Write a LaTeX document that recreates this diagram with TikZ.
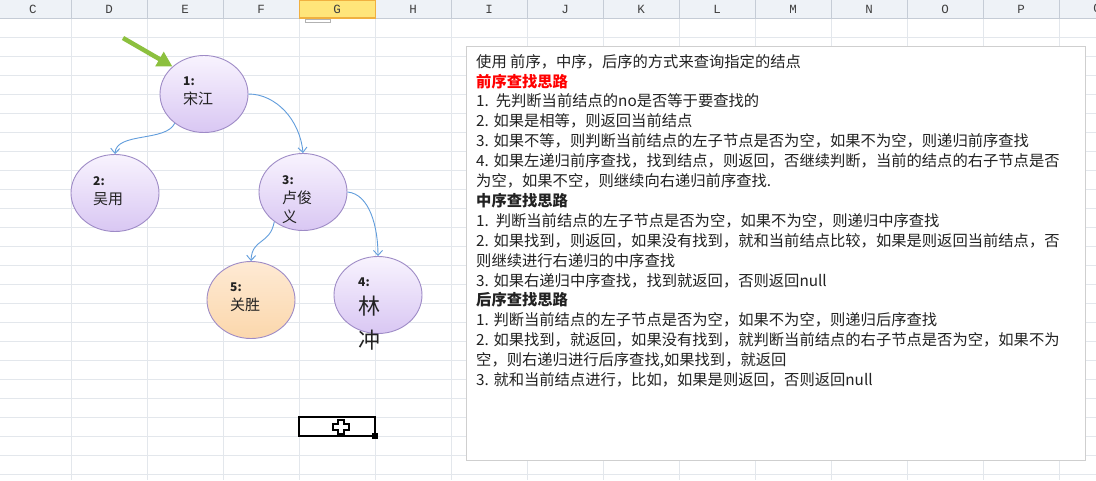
\documentclass[tikz,border=0pt]{standalone}
\usepackage{fontspec}
\setmainfont{Noto Sans CJK SC}
\setmonofont{Liberation Mono}
\usepackage{tikz}
\usetikzlibrary{arrows.meta,shapes.geometric}

\definecolor{gridgray}{HTML}{E3E7EC}
\definecolor{headfill}{HTML}{EEF2F7}
\definecolor{headline}{HTML}{C5CCD6}
\definecolor{selyellow}{HTML}{FFE57A}
\definecolor{selorange}{HTML}{F0B040}
\definecolor{linkblue}{HTML}{619DDC}
\definecolor{ballline}{HTML}{9E8BC6}
\definecolor{balltop}{HTML}{F8F3FE}
\definecolor{ballbot}{HTML}{D9C7F3}
\definecolor{peachtop}{HTML}{FEEAD4}
\definecolor{peachbot}{HTML}{FBD7AC}
\definecolor{pointgreen}{HTML}{8CC03E}
\definecolor{boxline}{HTML}{CFCFCF}
\definecolor{ink}{HTML}{222222}

\begin{document}
\begin{tikzpicture}[x=1pt,y=-1pt,
    colhead/.style={font=\ttfamily\fontsize{12.5}{12.5}\selectfont, text=black!75, inner sep=0pt},
    ball/.style={ellipse, minimum width=88pt, minimum height=77pt, inner sep=0pt,
      draw=ballline, line width=0.9pt, top color=balltop, bottom color=ballbot},
    peach/.style={ball, top color=peachtop, bottom color=peachbot},
    lbl/.style={anchor=north west, align=left, inner sep=0pt, text=ink,
      font=\fontsize{15}{19}\selectfont},
    link/.style={linkblue, line width=0.9pt, -{Straight Barb[length=5pt,width=9pt]}}]
    \useasboundingbox (0,0) rectangle (1096,480);
    \fill[white] (0,0) rectangle (1096,480);
    % sheet grid
    \foreach \y in {37,56,...,474}{\draw[gridgray] (0,\y)--(1096,\y);}
    \foreach \x in {71,147,...,1059}{\draw[gridgray] (\x,18)--(\x,480);}
    \fill[headfill] (0,0) rectangle (1096,18);
    \foreach \x in {71,147,...,1059}{\draw[headline] (\x,0)--(\x,18);}
    \draw[headline] (0,18)--(1096,18);
    \fill[selyellow] (299,0) rectangle (375,18);
    \draw[selorange] (299,0) rectangle (375,18);
    \draw[selorange, line width=1.5pt] (299,17.5)--(375,17.5);
    \draw[black!30, fill=white] (305,19) rectangle (330,22);
    \foreach \c [count=\i from 0] in {C,D,E,F,G,H,I,J,K,L,M,N,O,P,Q}{
      \node[colhead] (col\c) at (33+76*\i,9) {\c};}

    % tree
    \node[ball] (n1) at (204,94) {};
    \node[ball] (n2) at (115,193) {};
    \node[ball] (n3) at (303,192) {};
    \node[peach] (n5) at (251,300) {};
    \node[ball] (n4) at (378,295) {};
    \node[lbl] (t1) at (183,77) {{\bfseries\fontsize{12}{19}\selectfont 1:}\\宋江};
    \node[lbl] (t2) at (93,176) {{\bfseries\fontsize{12}{19}\selectfont 2:}\\吴用};
    \node[lbl] (t3) at (282,175) {{\bfseries\fontsize{12}{19}\selectfont 3:}\\卢俊\\义};
    \node[lbl] (t5) at (230,283) {{\bfseries\fontsize{12}{19}\selectfont 5:}\\关胜};
    \node[lbl] (t4) at (358,278) {{\bfseries\fontsize{12}{19}\selectfont 4:}\\[9pt]
      {\fontsize{22}{33}\selectfont 林}\\[12pt]{\fontsize{22}{33}\selectfont 冲}};
    \draw[link] (n1.225) .. controls (166,142) and (116,132) .. (n2.north);
    \draw[link] (n1.east) .. controls (276,94) and (300,120) .. (n3.north);
    \draw[link] (n3.226) .. controls (270,245) and (252,238) .. (n5.north);
    \draw[link] (n3.east) .. controls (370,194) and (378,228) .. (n4.north);
    \coordinate (hint) at (123,38);
    \draw[pointgreen, line width=4.5pt, -{Triangle[length=15pt,width=16pt]}] (hint)--(n1.139);

    % selected cell
    \draw[line width=2.5pt] (299,417) rectangle (375,436);
    \fill (372,433) rectangle (378,439);
    \draw[fill=white, line width=1.2pt] (338,420)--(344,420)--(344,424)--(349,424)--(349,430)--(344,430)
      --(344,434)--(338,434)--(338,430)--(333,430)--(333,424)--(338,424)--cycle;

    % notes
    \node[draw=boxline, fill=white, minimum width=619pt, minimum height=414pt, inner sep=0pt,
      anchor=north west] (box) at (466,46) {};
    \node[anchor=north west, align=left, inner sep=0pt, text=ink,
      font=\fontsize{15.3}{19.9}\selectfont] (notes) at (476,54) {%
      使用 前序，中序，后序的方式来查询指定的结点\\
      {\color{red}\bfseries 前序查找思路}\\
      1.\ \ 先判断当前结点的no是否等于要查找的\\
      2. 如果是相等，则返回当前结点\\
      3. 如果不等，则判断当前结点的左子节点是否为空，如果不为空，则递归前序查找\\
      4. 如果左递归前序查找，找到结点，则返回，否继续判断，当前的结点的右子节点是否\\
      为空，如果不空，则继续向右递归前序查找.\\
      {\bfseries 中序查找思路}\\
      1.\ \ 判断当前结点的左子节点是否为空，如果不为空，则递归中序查找\\
      2. 如果找到，则返回，如果没有找到，就和当前结点比较，如果是则返回当前结点，否\\
      则继续进行右递归的中序查找\\
      3. 如果右递归中序查找，找到就返回，否则返回null\\
      {\bfseries 后序查找思路}\\
      1. 判断当前结点的左子节点是否为空，如果不为空，则递归后序查找\\
      2. 如果找到，就返回，如果没有找到，就判断当前结点的右子节点是否为空，如果不为\\
      空，则右递归进行后序查找,如果找到，就返回\\
      3. 就和当前结点进行，比如，如果是则返回，否则返回null};
\end{tikzpicture}
\end{document}
